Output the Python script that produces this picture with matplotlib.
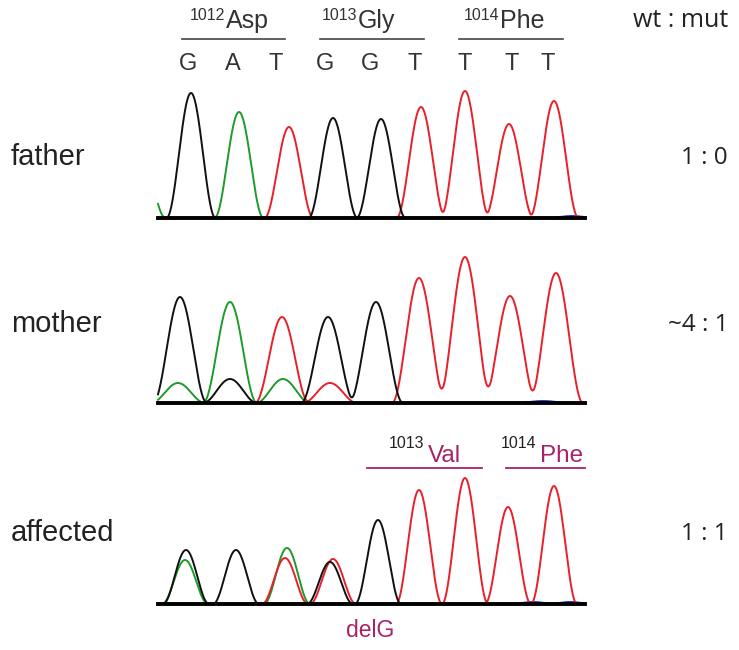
import numpy as np
import matplotlib
matplotlib.use("Agg")
import matplotlib.pyplot as plt

# peak data per sample: channel, center (scan units), height (signal units)
samples = ["father", "mother", "affected"]
ratios = ["1 : 0", "~4 : 1", "1 : 1"]

father_ch = ["G", "A", "T", "G", "G", "T", "T", "T", "T", "A", "C"]
father_pos = [33, 81, 131, 175, 223, 263, 307, 351, 396, -17, 414]
father_h = [125, 106, 91, 100, 99, 111, 127, 94, 117, 66, 2]

mother_ch = ["G", "A", "T", "G", "G", "T", "T", "T", "T", "A", "G", "A", "T", "C"]
mother_pos = [22, 72, 124, 170, 218, 261, 307, 352, 398, 20, 72, 125, 172, 385]
mother_h = [106, 101, 86, 86, 101, 125, 146, 107, 130, 20, 24, 24, 20, 2]

affected_ch = ["G", "A", "G", "A", "T", "G", "T", "G", "T", "T", "T", "T", "C", "C"]
affected_pos = [28, 27, 78, 129, 127, 172, 175, 220, 261, 307, 350, 396, 375, 412]
affected_h = [54, 44, 54, 56, 46, 42, 45, 84, 114, 126, 97, 118, 2, 2]

half_widths = [24.5, 27, 23]

codons = ["Asp", "Gly", "Phe"]
codon_nums = ["1012", "1013", "1014"]
bases = ["G", "A", "T", "G", "G", "T", "T", "T", "T"]

colors = {"G": "#111111", "A": "#1f9a2a", "T": "#e8202a", "C": "#2233cc"}
magenta = "#a8226a"

W, H = 739, 650
fig = plt.figure(figsize=(W / 100, H / 100), dpi=100)


def fx(x):
    return x / W


def fy(y):
    return 1 - y / H


def txt(x, y, s, **kw):
    kw.setdefault("family", "Liberation Sans")
    kw.setdefault("va", "baseline")
    fig.text(fx(x), fy(y), s, **kw)


def hline(x0, x1, y, color, lw=1.2):
    fig.add_artist(plt.Line2D([fx(x0), fx(x1)], [fy(y), fy(y)], color=color, lw=lw,
                              transform=fig.transFigure))


def peak(xs, p, h, w):
    d = np.clip((xs - p) / w, -1, 1)
    return h * np.cos(np.pi * d / 2) ** 2


panels = [(father_ch, father_pos, father_h), (mother_ch, mother_pos, mother_h),
          (affected_ch, affected_pos, affected_h)]
baselines = [218, 403, 604]
xs = np.linspace(0, 427, 3000)

for (ch, pos, hts), base, w in zip(panels, baselines, half_widths):
    ax = fig.add_axes([fx(158), fy(base), fx(585) - fx(158), 150 / H])
    ax.set_xlim(0, 427)
    ax.set_ylim(0, 150)
    ax.axis("off")
    for c in ["C", "A", "T", "G"]:
        y = np.zeros_like(xs)
        for cc, p, h in zip(ch, pos, hts):
            if cc == c:
                y += peak(xs, p, h, w)
        y = np.where(y > 0.4, y, np.nan)
        ax.plot(xs, y, color=colors[c], lw=1.4, clip_on=False)
    ax.plot([0, 427], [0, 0], color="black", lw=2.8, clip_on=False, zorder=5)

# left sample labels and right ratios
for name, r, yb in zip(samples, ratios, [165, 332, 541]):
    txt(11, yb, name, fontsize=21, color="#222222")
    txt(728, yb - 1, r, fontsize=17.5, color="#222222", family="Open Sans", ha="right")
txt(728, 27, "wt : mut", fontsize=18, color="#222222", family="Open Sans", ha="right")

# wild type codons on top
for x, num, aa in zip([225, 357, 499], codon_nums, codons):
    txt(x, 20, num, fontsize=11.5, color="#333333", ha="right")
    txt(x + 1, 28, aa, fontsize=18, color="#333333", ha="left")
for x0, x1 in [(182, 285), (320, 424), (459, 563)]:
    hline(x0, x1, 39, "#444444")
for b, x in zip(bases, [188, 233, 276, 325, 370, 415, 465, 512, 548]):
    txt(x, 70, b, fontsize=17, color="#333333", ha="center")

# mutant codons in affected
for x, num, aa in [(424, "1013", "Val"), (536, "1014", "Phe")]:
    txt(x, 448, num, fontsize=11.5, color="#222222", ha="right")
    txt(x + 4, 462, aa, fontsize=17.5, color=magenta, ha="left")
hline(367, 482, 468, magenta, lw=1.3)
hline(506, 585, 468, magenta, lw=1.3)
txt(370, 637, "delG", fontsize=16.5, color=magenta, ha="center")

fig.savefig("out.png", dpi=100, facecolor="white")
